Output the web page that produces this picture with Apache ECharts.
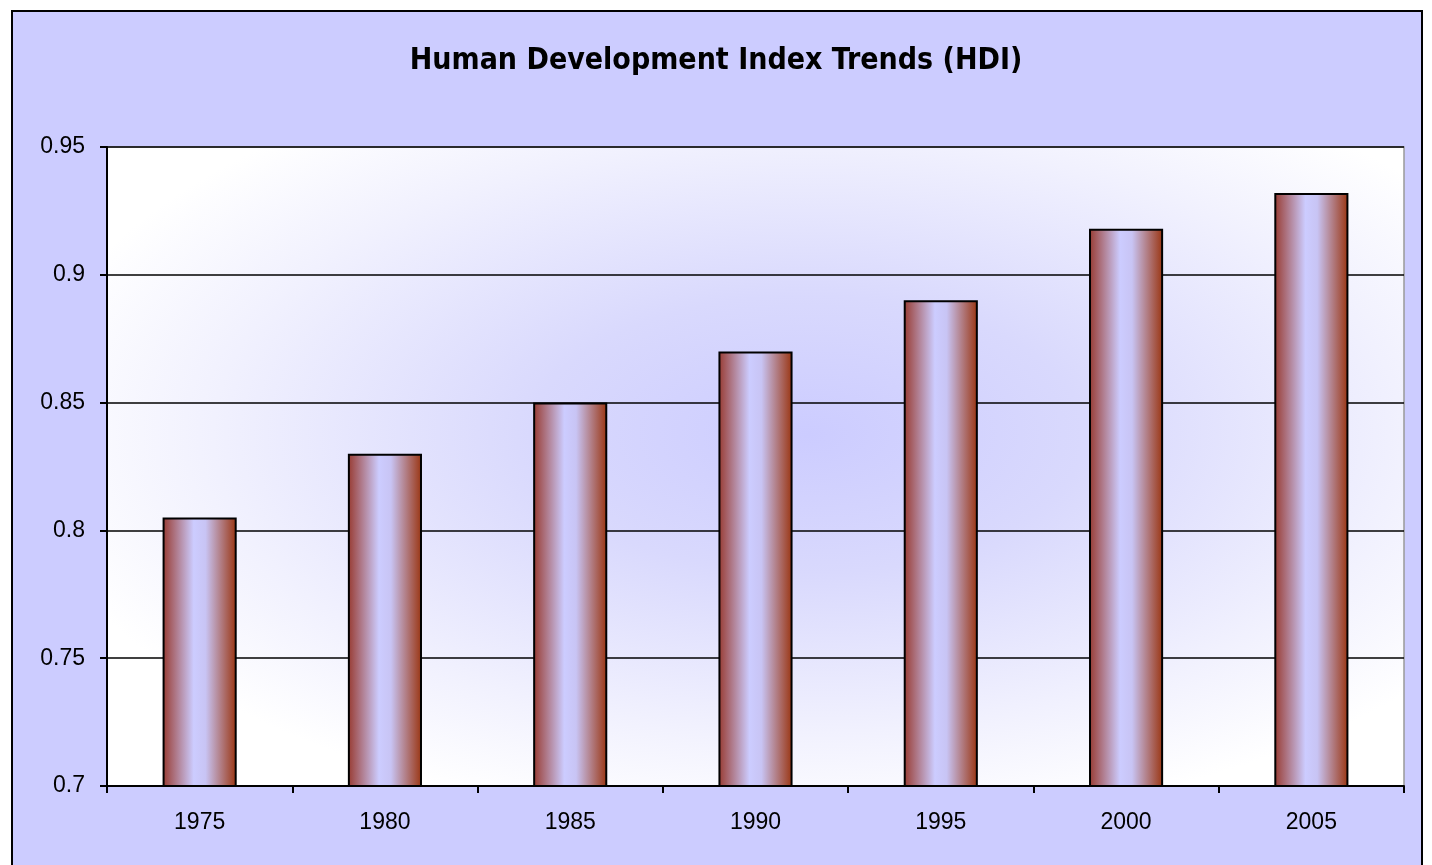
<!DOCTYPE html>
<html>
<head>
<meta charset="utf-8">
<script src="https://cdn.jsdelivr.net/npm/echarts@6/dist/echarts.min.js"></script>
<style>
  html, body { margin: 0; padding: 0; background: #fff; }
  #chart { width: 1432px; height: 865px; }
</style>
</head>
<body>
<div id="chart"></div>
<script>
// data
const years = ['1975', '1980', '1985', '1990', '1995', '2000', '2005'];
const hdiValues = [0.805, 0.83, 0.85, 0.87, 0.89, 0.918, 0.932];
const yTicks = { min: 0.7, max: 0.95, step: 0.05 };

const myChart = echarts.init(document.getElementById('chart'));

// plot box (px)
const gridBox = { left: 107, top: 147, width: 1297, height: 639 };

// bar fill: brown edges, lavender middle
const barFill = new echarts.graphic.LinearGradient(0, 0, 1, 0, [
    { offset: 0, color: '#983a30' },
    { offset: 0.42, color: '#ccccff' },
    { offset: 0.58, color: '#c8c4f4' },
    { offset: 1, color: '#9a3410' }
]);

// stretched 2x horizontally so the radial fill becomes an ellipse
const plotFill = new echarts.graphic.RadialGradient(0.54, 0.45, 0.62, [
    { offset: 0, color: '#ccccff' },
    { offset: 0.35, color: '#d9d9fd' },
    { offset: 0.75, color: '#f1f1fe' },
    { offset: 1, color: '#ffffff' }
]);

const option = {
    backgroundColor: '#fff',
    animation: false,
    graphic: [{
        // outer chart area with frame
        type: 'rect',
        z: -10,
        shape: { x: 12, y: 11, width: 1410, height: 870 },
        style: { fill: '#ccccff', stroke: '#000', lineWidth: 2 }
    }, {
        type: 'rect',
        z: -5,
        x: gridBox.left,
        y: gridBox.top,
        scaleX: 2,
        shape: { x: 0, y: 0, width: gridBox.width / 2, height: gridBox.height },
        style: { fill: plotFill }
    }],
    title: {
        text: 'Human Development Index Trends (HDI)',
        left: 'center',
        top: 41,
        textStyle: {
            fontFamily: 'DejaVu Sans Condensed',
            fontWeight: 'bold',
            fontSize: 30,
            color: '#000'
        }
    },
    grid: {
        left: gridBox.left,
        right: 1432 - gridBox.left - gridBox.width,
        top: gridBox.top,
        bottom: 865 - gridBox.top - gridBox.height,
        show: true,
        borderColor: '#999',
        borderWidth: 1.5,
        backgroundColor: 'transparent'
    },
    xAxis: {
        type: 'category',
        data: years,
        axisLine: { lineStyle: { color: '#000', width: 2 } },
        axisTick: { show: true, length: 7, lineStyle: { color: '#000', width: 2 } },
        axisLabel: {
            color: '#000',
            fontFamily: 'Liberation Sans',
            fontSize: 23,
            margin: 25
        }
    },
    yAxis: {
        type: 'value',
        min: yTicks.min,
        max: yTicks.max,
        interval: yTicks.step,
        axisLine: { show: true, lineStyle: { color: '#000', width: 2 } },
        axisTick: { show: true, length: 7, lineStyle: { color: '#000', width: 2 } },
        splitLine: { lineStyle: { color: '#000', width: 1.5 } },
        axisLabel: {
            color: '#000',
            fontFamily: 'Liberation Sans',
            fontSize: 23,
            margin: 22,
            formatter: v => String(Math.round(v * 100) / 100)
        }
    },
    series: [{
        type: 'bar',
        data: hdiValues,
        barWidth: '40%',
        itemStyle: {
            color: barFill,
            borderColor: '#000',
            borderWidth: 2
        }
    }]
};

myChart.setOption(option);
</script>
</body>
</html>
